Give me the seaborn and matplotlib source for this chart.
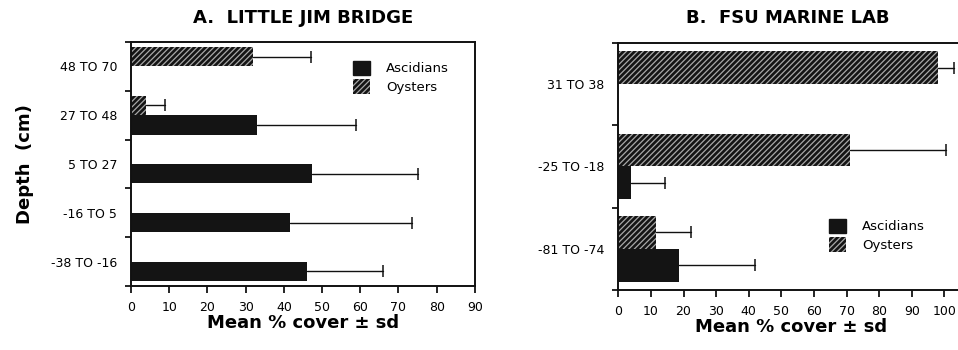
import numpy as np
import pandas as pd
import matplotlib
matplotlib.use("Agg")
import matplotlib.pyplot as plt
from matplotlib.patches import Patch
from matplotlib.ticker import FixedLocator
import seaborn as sns

# Panel A: Little Jim Bridge
depths_a = ["48 TO 70", "27 TO 48", "5 TO 27", "-16 TO 5", "-38 TO -16"]
ascidians_a = [0, 33, 47.5, 41.5, 46]
ascidians_a_sd = [0, 26, 27.5, 32, 20]
oysters_a = [32, 4, 0, 0, 0]
oysters_a_sd = [15, 5, 0, 0, 0]

# Panel B: FSU Marine Lab
depths_b = ["31 TO 38", "-25 TO -18", "-81 TO -74"]
ascidians_b = [0, 3.8, 18.5]
ascidians_b_sd = [0, 10.5, 23.5]
oysters_b = [98, 71, 11.5]
oysters_b_sd = [5, 29.5, 10.8]

groups = ["Oysters", "Ascidians"]
legend_order = ["Ascidians", "Oysters"]

sns.set_theme(style="ticks")
plt.rcParams["font.family"] = ["DejaVu Sans"]
plt.rcParams["hatch.linewidth"] = 0.9
for key in ["text.color", "axes.labelcolor", "xtick.color", "ytick.color",
            "axes.edgecolor"]:
    plt.rcParams[key] = "#000000"

DARK = "#141414"
HATCH_EDGE = "#a8a8a8"


def make_frame(depths, asc, asc_sd, oys, oys_sd):
    rows = []
    for d, a, asd, o, osd in zip(depths, asc, asc_sd, oys, oys_sd):
        rows.append({"depth": d, "group": "Oysters", "cover": o, "sd": osd})
        rows.append({"depth": d, "group": "Ascidians", "cover": a, "sd": asd})
    return pd.DataFrame(rows)


def draw_panel(ax, df, depths, title, xmax, xticks, legend_anchor):
    sns.barplot(data=df, y="depth", x="cover", hue="group", order=depths,
                hue_order=groups, orient="h", errorbar=None, width=0.8,
                palette={"Oysters": DARK, "Ascidians": DARK},
                linewidth=0, ax=ax, legend=False)

    # hatch the oyster bars; one-sided error bars to the right of each bar
    sd_lookup = {(r.depth, r.group): r.sd for r in df.itertuples()}
    for patch in list(ax.patches):
        yc = patch.get_y() + patch.get_height() / 2
        idx = int(round(yc))
        grp = "Oysters" if yc < idx else "Ascidians"
        if grp == "Oysters":
            patch.set_hatch("//////")
            patch.set_edgecolor(HATCH_EDGE)
            patch.set_linewidth(0)
        sd = sd_lookup[(depths[idx], grp)]
        w = patch.get_width()
        if w > 0:
            ax.plot([w, w + sd], [yc, yc], color="#111111", lw=1.0, zorder=3)
            ax.plot([w + sd], [yc], marker="|", markersize=8, mew=1.1,
                    color="#111111", zorder=3)

    n = len(depths)
    ax.set_ylim(n - 0.5, -0.5)
    ax.set_xlim(0, xmax)
    ax.set_xticks(xticks)
    ax.set_xticklabels([str(t) for t in xticks], fontsize=9)
    ax.yaxis.set_minor_locator(FixedLocator(np.arange(-0.5, n, 1.0)))
    ax.tick_params(axis="y", which="major", length=0, pad=10, labelsize=9)
    ax.tick_params(axis="y", which="minor", length=4, width=1.2, direction="out")
    ax.tick_params(axis="x", length=5, width=1.2, direction="out", pad=6)
    for s in ax.spines.values():
        s.set_visible(True)
        s.set_linewidth(1.4)
        s.set_color("#111111")
    ax.set_ylabel("")
    ax.set_xlabel("Mean % cover \u00b1 sd", fontsize=13, fontweight="bold",
                  labelpad=0)
    ax.set_title(title, fontsize=13, fontweight="bold", pad=14)

    handles = [Patch(facecolor=DARK, edgecolor=DARK, label="Ascidians"),
               Patch(facecolor=DARK, edgecolor=HATCH_EDGE, hatch="//////",
                     linewidth=0, label="Oysters")]
    ax.legend(handles=handles, labels=legend_order, loc="upper left",
              bbox_to_anchor=legend_anchor, frameon=False, fontsize=9.5,
              handlelength=1.3, handleheight=1.3, handletextpad=1.2,
              labelspacing=0.3, borderaxespad=0)


fig = plt.figure(figsize=(9.58, 3.5), dpi=100)
ax_a = fig.add_axes([0.1367, 0.183, 0.359, 0.697])
ax_b = fig.add_axes([0.6454, 0.1714, 0.3608, 0.706])

draw_panel(ax_a, make_frame(depths_a, ascidians_a, ascidians_a_sd, oysters_a, oysters_a_sd),
           depths_a, "A.  LITTLE JIM BRIDGE", 90, list(range(0, 91, 10)), (0.63, 0.945))
draw_panel(ax_b, make_frame(depths_b, ascidians_b, ascidians_b_sd, oysters_b, oysters_b_sd),
           depths_b, "B.  FSU MARINE LAB", 106, list(range(0, 101, 10)), (0.595, 0.31))

ax_a.set_ylabel("Depth  (cm)", fontsize=13, fontweight="bold", labelpad=12)
ax_b.title.set_position((0.49, 1.0))

fig.savefig("out.png", dpi=100, facecolor="white")
